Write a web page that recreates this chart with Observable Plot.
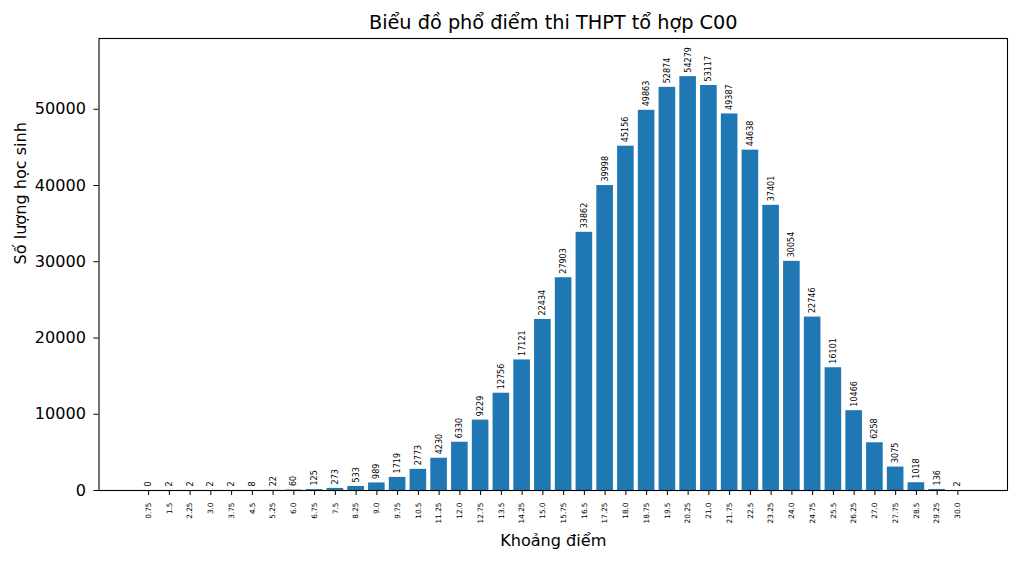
<!DOCTYPE html>
<html>
<head>
<meta charset="utf-8">
<script src="https://cdn.jsdelivr.net/npm/d3@7"></script>
<script src="https://cdn.jsdelivr.net/npm/@observablehq/plot@0.6"></script>
<style>
  html, body { margin: 0; padding: 0; background: #fff; }
  #chart svg { display: block; font-family: "DejaVu Sans", sans-serif; }
</style>
</head>
<body>
<div id="chart"></div>
<script>
const scores = [0.75, 1.5, 2.25, 3.0, 3.75, 4.5, 5.25, 6.0, 6.75, 7.5, 8.25, 9.0, 9.75, 10.5, 11.25, 12.0, 12.75, 13.5, 14.25, 15.0,
  15.75, 16.5, 17.25, 18.0, 18.75, 19.5, 20.25, 21.0, 21.75, 22.5, 23.25, 24.0, 24.75, 25.5, 26.25, 27.0, 27.75, 28.5, 29.25, 30.0];
const scoreLabels = ["0.75", "1.5", "2.25", "3.0", "3.75", "4.5", "5.25", "6.0", "6.75", "7.5", "8.25", "9.0", "9.75", "10.5", "11.25", "12.0", "12.75", "13.5", "14.25", "15.0",
  "15.75", "16.5", "17.25", "18.0", "18.75", "19.5", "20.25", "21.0", "21.75", "22.5", "23.25", "24.0", "24.75", "25.5", "26.25", "27.0", "27.75", "28.5", "29.25", "30.0"];
const counts = [0, 2, 2, 2, 2, 8, 22, 60, 125, 273, 533, 989, 1719, 2773, 4230, 6330, 9229, 12756, 17121, 22434,
  27903, 33862, 39998, 45156, 49863, 52874, 54279, 53117, 49387, 44638, 37401, 30054, 22746, 16101, 10466, 6258, 3075, 1018, 136, 2];
const yTicks = [0, 10000, 20000, 30000, 40000, 50000];
const title = "Biểu đồ phổ điểm thi THPT tổ hợp C00";
const xTitle = "Khoảng điểm";
const yTitle = "Số lượng học sinh";

const data = scores.map((s, i) => ({score: s, label: scoreLabels[i], count: counts[i]}));
const labelOf = new Map(scores.map((s, i) => [s, scoreLabels[i]]));
const halfWidth = 0.3;
const xPad = (scores[scores.length - 1] - scores[0] + 2 * halfWidth) * 0.05;

const plot = Plot.plot({
  width: 1020,
  height: 561,
  marginLeft: 98.5,
  marginRight: 13,
  marginTop: 38,
  marginBottom: 71,
  style: {fontFamily: "DejaVu Sans, sans-serif", color: "#000", background: "#fff"},
  x: {type: "linear", domain: [scores[0] - halfWidth - xPad, scores[scores.length - 1] + halfWidth + xPad]},
  y: {domain: [0, 59280]},
  marks: [
    Plot.rectY(data, {x1: d => d.score - halfWidth, x2: d => d.score + halfWidth, y1: 0, y2: "count", fill: "#1f77b4"}),
    Plot.text(data, {x: "score", y: "count", text: d => String(d.count), rotate: -90, textAnchor: "start", lineAnchor: "middle", dy: -4, fontSize: 8.05, fill: "#000"}),
    Plot.axisX({ticks: scores, tickFormat: d => labelOf.get(d), tickRotate: -90, tickSize: 5, tickPadding: 7, fontSize: 7.3, label: null, stroke: "#000"}),
    Plot.axisY({ticks: yTicks, tickFormat: d => String(d), tickSize: 5, tickPadding: 8, fontSize: 16.1, label: null, stroke: "#000"}),
    Plot.frame({stroke: "#000", strokeWidth: 1.1}),
    Plot.text([title], {frameAnchor: "top", dy: -16, lineAnchor: "middle", fontSize: 19.3, fill: "#000"}),
    Plot.text([xTitle], {frameAnchor: "bottom", dy: 50, lineAnchor: "middle", fontSize: 16.1, fill: "#000"}),
    Plot.text([yTitle], {frameAnchor: "left", dx: -78, rotate: -90, lineAnchor: "middle", fontSize: 16.1, fill: "#000"})
  ]
});
document.getElementById("chart").appendChild(plot);
</script>
</body>
</html>
